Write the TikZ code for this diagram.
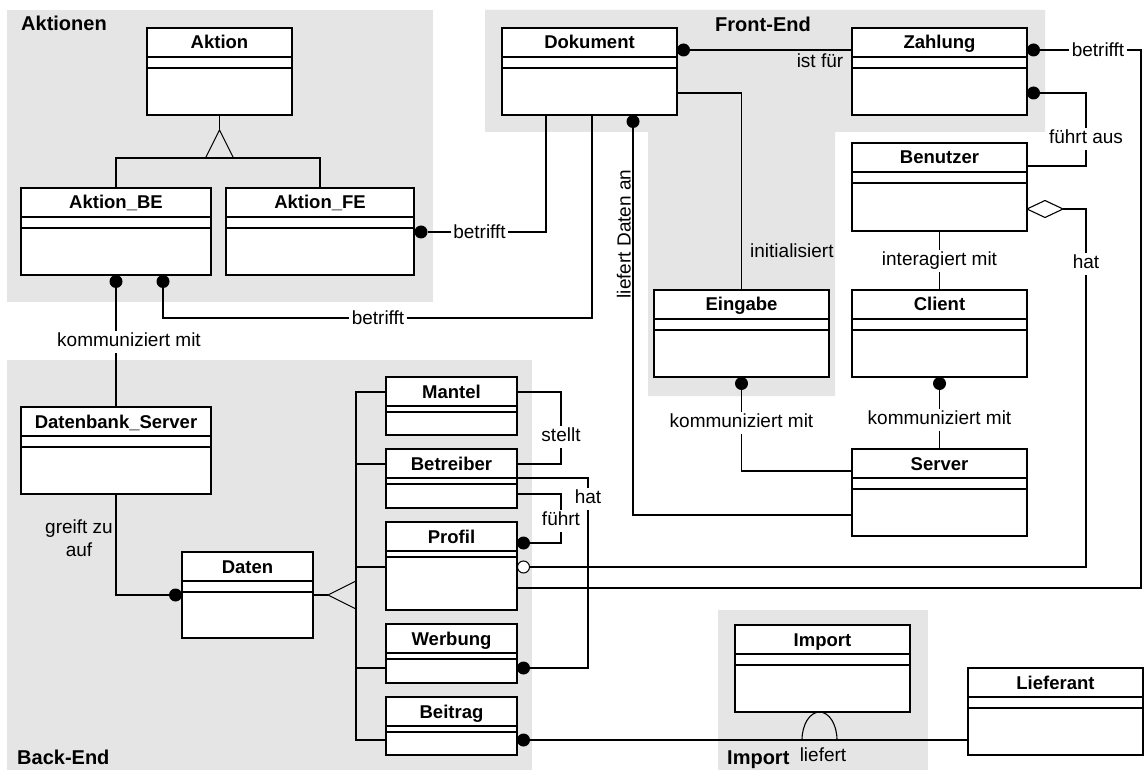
\documentclass[tikz,border=0pt]{standalone}
\usepackage{fontspec}
\setmainfont{Liberation Sans}
\usetikzlibrary{calc}
\definecolor{grp}{RGB}{229,229,229}
\pgfdeclarelayer{bg}
\pgfdeclarelayer{wires}
\pgfsetlayers{bg,wires,main}
\tikzset{
 clsbox/.style={draw=black, fill=white, line width=1.2pt, inner sep=0pt, outer sep=0pt},
 clsline/.style={draw=black, line width=1.2pt},
 clstitle/.style={font=\bfseries\fontsize{18.5}{20}\selectfont, inner sep=0pt},
 conn/.style={draw=black, line width=1.1pt},
 lblh/.style={font=\fontsize{19}{21}\selectfont, inner sep=2.5pt, text height=13.5pt, text depth=0pt},
 lblv/.style={font=\fontsize{19}{21}\selectfont, inner sep=2.5pt, text height=13.5pt, text depth=4pt},
 dotf/.style={circle, fill=black, inner sep=0pt, minimum size=13pt},
 doto/.style={circle, draw=black, fill=white, line width=1pt, inner sep=0pt, minimum size=12pt},
 grplbl/.style={font=\bfseries\fontsize{20}{22}\selectfont, inner sep=0pt},
}
\newcommand\umlcls[7]{%
  \node[clsbox, minimum width=#5pt, minimum height=#6pt, anchor=north west] (#1) at (#3,-#4) {};
  \node[clstitle, anchor=base] (#1-title) at ([yshift=-21pt]#1.north) {#2};
  \draw[clsline] ([yshift=-29pt]#1.north west) -- ([yshift=-29pt]#1.north east);
  \draw[clsline] ([yshift=-29pt-#7pt]#1.north west) -- ([yshift=-29pt-#7pt]#1.north east);
}
\begin{document}
\begin{tikzpicture}[x=1pt,y=1pt]
\useasboundingbox (0,0) rectangle (1144,-770);
\begin{pgfonlayer}{bg}
\fill[white] (0,0) rectangle (1144,-770);
\fill[grp] (7,-10) rectangle (433,-302);
\fill[grp] (485,-10) -- (1045,-10) -- (1045,-132) -- (835,-132) -- (835,-396) -- (648,-396) -- (648,-132) -- (485,-132) -- cycle;
\fill[grp] (7,-360) rectangle (532,-770);
\fill[grp] (718,-610) rectangle (928,-770);
\end{pgfonlayer}

\node[grplbl, anchor=base west] (gAkt) at (21,-31) {Aktionen};
\node[grplbl, anchor=base] (gFE) at (763,-32) {Front-End};
\node[grplbl, anchor=base west] (gBE) at (17,-764) {Back-End};
\node[grplbl, anchor=base west] (gImp) at (727,-764) {Import};

\umlcls{Aktion}{Aktion}{147}{28}{145}{87}{11}
\umlcls{AktionBE}{Aktion\_BE}{21}{188}{190}{87}{11}
\umlcls{AktionFE}{Aktion\_FE}{226}{188}{188}{87}{11}
\umlcls{Dokument}{Dokument}{502}{28}{175}{87}{11}
\umlcls{Zahlung}{Zahlung}{852}{28}{175}{87}{11}
\umlcls{Benutzer}{Benutzer}{852}{143}{175}{88}{11}
\umlcls{Eingabe}{Eingabe}{654}{290}{175}{87}{11}
\umlcls{Client}{Client}{852}{290}{175}{87}{11}
\umlcls{Server}{Server}{852}{449}{175}{87}{11}
\umlcls{DBServer}{Datenbank\_Server}{21}{407}{190}{87}{11}
\umlcls{Daten}{Daten}{182}{552}{131}{86}{11}
\umlcls{Mantel}{Mantel}{386}{377}{131}{58}{6}
\umlcls{Betreiber}{Betreiber}{386}{449}{131}{59}{6}
\umlcls{Profil}{Profil}{386}{522}{131}{88}{6}
\umlcls{Werbung}{Werbung}{386}{624}{131}{59}{6}
\umlcls{Beitrag}{Beitrag}{386}{697}{131}{58}{6}
\umlcls{Import}{Import}{735}{625}{175}{87}{11}
\umlcls{Lieferant}{Lieferant}{968}{668}{175}{87}{11}

\begin{pgfonlayer}{wires}
% Aktion generalization
\draw[conn] (Aktion.south) -- ++(0,-15) coordinate (gA);
\draw[conn] (gA) -- ++(-14,-28) -- ++(28,0) -- cycle;
\draw[conn] (AktionBE.north) -- ++(0,30) -| (AktionFE.north);

% Aktion_FE betrifft Dokument
\node[dotf] (d1) at (421,-232) {};
\node[lblh] (l1) at (479.5,-232) {betrifft};
\coordinate (c1) at (546,-232);
\draw[conn] (d1) -- (l1);
\draw[conn] (l1) -- (c1) -- (c1 |- Dokument.south);

% Aktion_BE kommuniziert mit Datenbank_Server
\node[dotf] (d2) at (116,-281.5) {};
\node[lblv] (l2) at (129,-342) {kommuniziert mit};
\draw[conn] (d2) -- (d2 |- l2.north);
\draw[conn] (d2 |- l2.south) -- (DBServer.north);

% Aktion_BE betrifft Dokument
\node[dotf] (d3) at (163,-281.5) {};
\node[lblh] (l3) at (378,-318) {betrifft};
\coordinate (c3) at (592,-318);
\draw[conn] (d3) |- (l3);
\draw[conn] (l3) -- (c3) -- (c3 |- Dokument.south);

% Datenbank_Server greift zu auf Daten
\node[dotf] (d4) at (175.5,-595) {};
\draw[conn] (DBServer.south) |- (d4);
\node[font=\fontsize{19}{23}\selectfont, align=center, inner sep=0pt] (l4) at (79,-538) {greift zu\\auf};

% Daten generalization
\draw[conn] (Daten.east) -- ++(15,0) coordinate (gD);
\draw[conn] (gD) -- ++(28,14) -- ++(0,-28) -- cycle;
\coordinate (vTop) at (356,-392);
\coordinate (vBe) at (356,-464);
\coordinate (vPr) at (356,-567);
\coordinate (vWe) at (356,-668);
\coordinate (vBot) at (356,-740);
\draw[conn] (Mantel.west |- vTop) -- (vTop) -- (vBot) -- (Beitrag.west |- vBot);
\draw[conn] (vBe) -- (Betreiber.west |- vBe);
\draw[conn] (vPr) -- (Profil.west |- vPr);
\draw[conn] (vWe) -- (Werbung.west |- vWe);

% Mantel stellt Betreiber
\node[lblv] (l7) at (561,-437) {stellt};
\draw[conn] (Mantel.east |- vTop) -| (l7);
\draw[conn] (l7) |- (Betreiber.east |- vBe);

% Betreiber hat Werbung
\node[lblv] (l8) at (588,-499) {hat};
\node[dotf] (d8) at (523.5,-668) {};
\draw[conn] ([yshift=-29pt]Betreiber.north east) -| (l8);
\draw[conn] (l8) |- (d8);

% Betreiber fuehrt Profil
\node[lblv] (l9) at (561,-521) {führt};
\node[dotf] (d9) at (523.5,-543) {};
\coordinate (c9) at (561,-494);
\draw[conn] (Betreiber.east |- c9) -- (c9) -- (l9);
\draw[conn] (l9) |- (d9);

% Profil hat Benutzer (aggregation)
\node[doto] (d10) at (523.5,-567) {};
\coordinate (dia) at (Benutzer.east |- 0,-209);
\draw[conn, fill=white] (dia) -- ++(18,8.5) -- ++(18,-8.5) coordinate (diaR) -- ++(-18,-8.5) -- cycle;
\node[lblv] (l10) at (1086,-264) {hat};
\draw[conn] (diaR) -| (l10);
\draw[conn] (l10) |- (d10);

% Profil betrifft Zahlung
\node[dotf] (d11) at (1033.5,-50) {};
\node[lblh] (l11) at (1098,-50) {betrifft};
\coordinate (c11) at (1141,-588);
\draw[conn] (Profil.east |- c11) -- (c11) |- (l11);
\draw[conn] (l11) -- (d11);

% Beitrag liefert Lieferant
\node[dotf] (d12) at (523.5,-740) {};
\draw[conn] (d12) -- (Lieferant.west |- d12);
\coordinate (arcL) at (802,-740);
\draw[conn] (arcL) arc[start angle=180, end angle=0, x radius=17.5, y radius=28];
\node[lblh] (l12) at (823,-755) {liefert};

% Dokument ist fuer Zahlung
\node[dotf] (d13) at (683.5,-50) {};
\draw[conn] (d13) -- (Zahlung.west |- d13);
\node[lblh] (l13) at (820,-61) {ist für};

% Dokument initialisiert Eingabe
\coordinate (c14) at (741.5,-93);
\draw[conn] (Dokument.east |- c14) -- (c14) -- (Eingabe.north);
\node[lblh, anchor=west] (l14) at (747.5,-251) {initialisiert};

% Dokument liefert Daten an Server
\node[dotf] (d15) at (633,-121.5) {};
\coordinate (c15) at (633,-515);
\draw[conn] (d15) -- (c15) -- (Server.west |- c15);
\node[font=\fontsize{19}{21}\selectfont, rotate=90, anchor=south, inner sep=1pt] (l15) at (632,-234) {liefert Daten an};

% Eingabe kommuniziert mit Server
\node[dotf] (d16) at (741.5,-383.5) {};
\node[lblv] (l16) at (741.5,-423) {kommuniziert mit};
\draw[conn] (d16) -- (l16);
\draw[conn] (l16) |- (Server.west |- 0,-471);

% Client kommuniziert mit Server
\node[dotf] (d17) at (939.5,-383.5) {};
\node[lblv] (l17) at (939.5,-420) {kommuniziert mit};
\draw[conn] (d17) -- (l17);
\draw[conn] (l17) -- (Server.north);

% Zahlung fuehrt aus Benutzer
\node[dotf] (d18) at (1033.5,-93) {};
\node[lblv] (l18) at (1086,-139) {führt aus};
\draw[conn] (d18) -| (l18);
\draw[conn] (l18) |- (Benutzer.east |- 0,-166);

% Benutzer interagiert mit Client
\node[lblv] (l19) at (939.5,-261) {interagiert mit};
\draw[conn] (Benutzer.south) -- (l19);
\draw[conn] (l19) -- (Client.north);
\end{pgfonlayer}
\end{tikzpicture}
\end{document}
